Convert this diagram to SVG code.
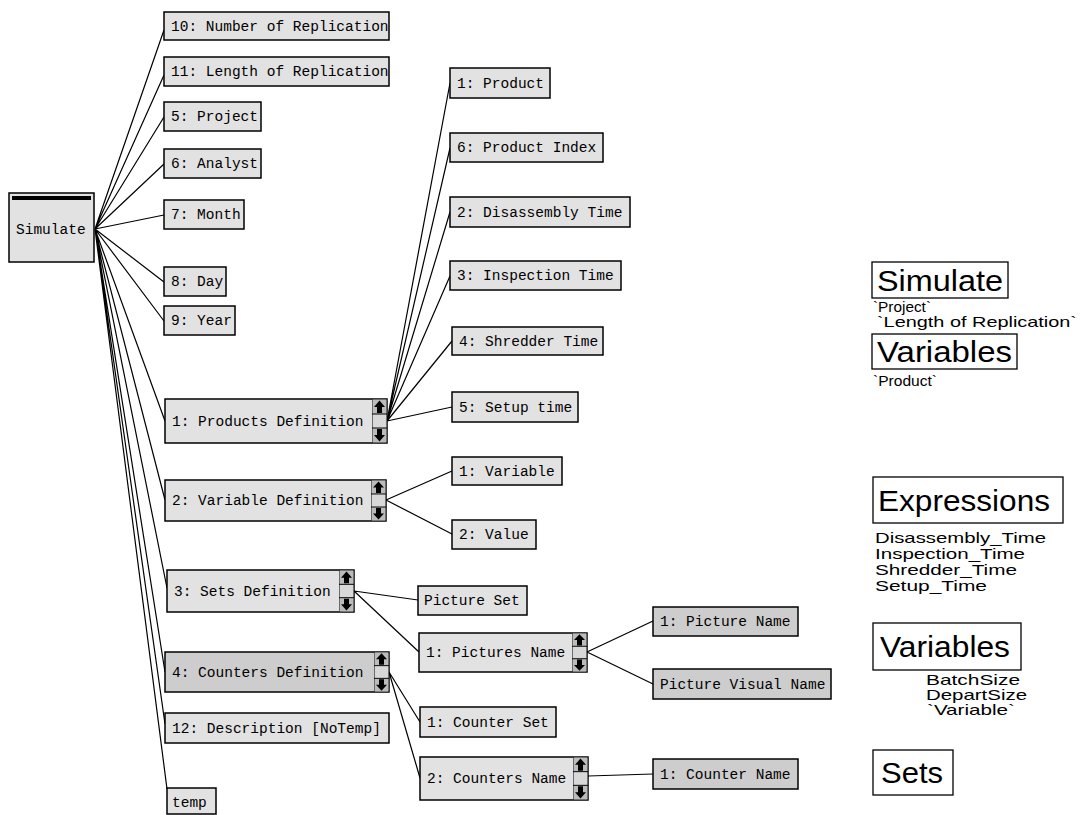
<svg xmlns="http://www.w3.org/2000/svg" width="1090" height="815" viewBox="0 0 1090 815">
<style>
.n{fill:#e2e2e2;stroke:#000;stroke-width:1.5}
.d{fill:#cdcdcd;stroke:#000;stroke-width:1.5}
.t{font-family:"Liberation Mono",monospace;font-size:14.5px;fill:#000}
.e{stroke:#000;stroke-width:1.2;fill:none}
.lb{fill:#fff;stroke:#000;stroke-width:1.3}
.lt{font-family:"Liberation Sans",Arial,sans-serif;font-size:29px;fill:#000}
.ls{font-family:"Liberation Sans",Arial,sans-serif;font-size:15px;fill:#000}
</style>
<defs>
<symbol id="sb" viewBox="0 0 15 44" preserveAspectRatio="none">
<rect x="0" y="0" width="15" height="44" fill="#d8d8d8" stroke="#000" stroke-width="1"/>
<rect x="1" y="1" width="13" height="14" fill="#bbb"/>
<polygon points="7.5,1.5 13,8 10,8 10,14 5,14 5,8 2,8" fill="#000"/>
<rect x="1" y="29" width="13" height="14" fill="#bbb"/>
<polygon points="7.5,42.5 13,36 10,36 10,30 5,30 5,36 2,36" fill="#000"/>
<line x1="0" y1="15" x2="15" y2="15" stroke="#000" stroke-width="1"/>
<line x1="0" y1="29" x2="15" y2="29" stroke="#000" stroke-width="1"/>
</symbol>
</defs>
<rect width="1090" height="815" fill="#fff"/>
<g id="connectors">
<path class="e" d="M95,229 L164,30 M95,229 L164,75 M95,229 L164,117 M95,229 L164,164 M95,229 L164,215 M95,229 L164,282 M95,229 L164,321 M95,229 L165,421 M95,229 L165,500 M95,229 L167,588 M95,229 L165,672 M95,229 L165,724 M95,229 L167,789"/>
<path class="e" d="M387,421 L450,83 M387,421 L450,148 M387,421 L450,212 M387,421 L450,276 M387,421 L452,341 M387,421 L452,407"/>
<path class="e" d="M386,500 L452,471 M386,500 L452,534"/>
<path class="e" d="M354,591 L418,600 M354,591 L419,652"/>
<path class="e" d="M587,652 L653,621 M587,652 L653,684"/>
<path class="e" d="M389,672 L420,722 M389,672 L420,778"/>
<path class="e" d="M588,776 L653,774"/>
</g>
<g id="simulate">
<rect class="n" x="9" y="193" width="85" height="69"/>
<rect x="12" y="196" width="79" height="4" fill="#000"/>
<text class="t" x="16" y="234">Simulate</text>
</g>
<g id="n10"><rect class="n" x="164" y="12" width="225" height="28"/><text class="t" x="171" y="31">10: Number of Replication</text></g>
<g id="n11"><rect class="n" x="164" y="57" width="225" height="29"/><text class="t" x="171" y="76">11: Length of Replication</text></g>
<g id="n5"><rect class="n" x="164" y="102" width="97" height="29"/><text class="t" x="171" y="121">5: Project</text></g>
<g id="n6"><rect class="n" x="164" y="149" width="97" height="29"/><text class="t" x="171" y="168">6: Analyst</text></g>
<g id="n7"><rect class="n" x="164" y="200" width="80" height="29"/><text class="t" x="171" y="219">7: Month</text></g>
<g id="n8"><rect class="n" x="164" y="267" width="62" height="29"/><text class="t" x="171" y="286">8: Day</text></g>
<g id="n9"><rect class="n" x="164" y="306" width="71" height="29"/><text class="t" x="171" y="325">9: Year</text></g>
<g id="nprod"><rect class="n" x="165" y="399" width="222" height="44"/><text class="t" x="172" y="426">1: Products Definition</text><use href="#sb" x="372" y="399" width="15" height="44"/></g>
<g id="nvar"><rect class="n" x="165" y="480" width="221" height="41"/><text class="t" x="172" y="505">2: Variable Definition</text><use href="#sb" x="371" y="480" width="15" height="41"/></g>
<g id="nsets"><rect class="n" x="167" y="570" width="187" height="42"/><text class="t" x="174" y="596">3: Sets Definition</text><use href="#sb" x="339" y="570" width="15" height="42"/></g>
<g id="ncnt"><rect class="d" x="165" y="652" width="224" height="40"/><text class="t" x="172" y="677">4: Counters Definition</text><use href="#sb" x="374" y="652" width="15" height="40"/></g>
<g id="n12"><rect class="n" x="165" y="713" width="224" height="30"/><text class="t" x="172" y="733">12: Description [NoTemp]</text></g>
<g id="ntemp"><rect class="n" x="167" y="788" width="49" height="26"/><text class="t" x="172" y="807">temp</text></g>
<g id="p1"><rect class="n" x="450" y="68" width="100" height="30"/><text class="t" x="457" y="88">1: Product</text></g>
<g id="p6"><rect class="n" x="450" y="133" width="153" height="29"/><text class="t" x="457" y="152">6: Product Index</text></g>
<g id="p2"><rect class="n" x="450" y="197" width="180" height="30"/><text class="t" x="457" y="217">2: Disassembly Time</text></g>
<g id="p3"><rect class="n" x="450" y="261" width="171" height="29"/><text class="t" x="457" y="280">3: Inspection Time</text></g>
<g id="p4"><rect class="n" x="452" y="327" width="151" height="28"/><text class="t" x="459" y="346">4: Shredder Time</text></g>
<g id="p5"><rect class="n" x="452" y="392" width="126" height="30"/><text class="t" x="459" y="412">5: Setup time</text></g>
<g id="v1"><rect class="n" x="452" y="457" width="110" height="28"/><text class="t" x="459" y="476">1: Variable</text></g>
<g id="v2"><rect class="n" x="452" y="520" width="84" height="29"/><text class="t" x="459" y="539">2: Value</text></g>
<g id="sps"><rect class="n" x="418" y="586" width="109" height="29"/><text class="t" x="424" y="605">Picture Set</text></g>
<g id="spn"><rect class="n" x="419" y="633" width="168" height="39"/><text class="t" x="426" y="657">1: Pictures Name</text><use href="#sb" x="572" y="633" width="15" height="39"/></g>
<g id="pn1"><rect class="d" x="653" y="607" width="145" height="29"/><text class="t" x="660" y="626">1: Picture Name</text></g>
<g id="pvn"><rect class="d" x="653" y="669" width="178" height="30"/><text class="t" x="660" y="689">Picture Visual Name</text></g>
<g id="ccs"><rect class="n" x="420" y="707" width="136" height="30"/><text class="t" x="427" y="727">1: Counter Set</text></g>
<g id="ccn"><rect class="n" x="420" y="757" width="168" height="43"/><text class="t" x="427" y="783">2: Counters Name</text><use href="#sb" x="573" y="757" width="15" height="43"/></g>
<g id="cn1"><rect class="d" x="653" y="759" width="145" height="30"/><text class="t" x="660" y="779">1: Counter Name</text></g>
<g id="legend">
<rect class="lb" x="872" y="262" width="136" height="36"/><text class="lt" x="877" y="291" textLength="126" lengthAdjust="spacingAndGlyphs">Simulate</text>
<text class="ls" x="873" y="312" textLength="58" lengthAdjust="spacingAndGlyphs">`Project`</text>
<text class="ls" x="877" y="327" textLength="200" lengthAdjust="spacingAndGlyphs">`Length of Replication`</text>
<rect class="lb" x="872" y="334" width="145" height="35"/><text class="lt" x="877" y="362" textLength="135" lengthAdjust="spacingAndGlyphs">Variables</text>
<text class="ls" x="873" y="386" textLength="64" lengthAdjust="spacingAndGlyphs">`Product`</text>
<rect class="lb" x="873" y="477" width="190" height="46"/><text class="lt" x="878" y="511" textLength="172" lengthAdjust="spacingAndGlyphs">Expressions</text>
<text class="ls" x="875" y="543" textLength="171" lengthAdjust="spacingAndGlyphs">Disassembly_Time</text>
<text class="ls" x="875" y="559" textLength="150" lengthAdjust="spacingAndGlyphs">Inspection_Time</text>
<text class="ls" x="875" y="575" textLength="142" lengthAdjust="spacingAndGlyphs">Shredder_Time</text>
<text class="ls" x="875" y="591" textLength="112" lengthAdjust="spacingAndGlyphs">Setup_Time</text>
<rect class="lb" x="873" y="623" width="148" height="47"/><text class="lt" x="880" y="657" textLength="130" lengthAdjust="spacingAndGlyphs">Variables</text>
<text class="ls" x="926" y="685" textLength="94" lengthAdjust="spacingAndGlyphs">BatchSize</text>
<text class="ls" x="926" y="700" textLength="101" lengthAdjust="spacingAndGlyphs">DepartSize</text>
<text class="ls" x="927" y="715" textLength="88" lengthAdjust="spacingAndGlyphs">`Variable`</text>
<rect class="lb" x="873" y="750" width="80" height="45"/><text class="lt" x="881" y="783" textLength="62" lengthAdjust="spacingAndGlyphs">Sets</text>
</g>
</svg>
